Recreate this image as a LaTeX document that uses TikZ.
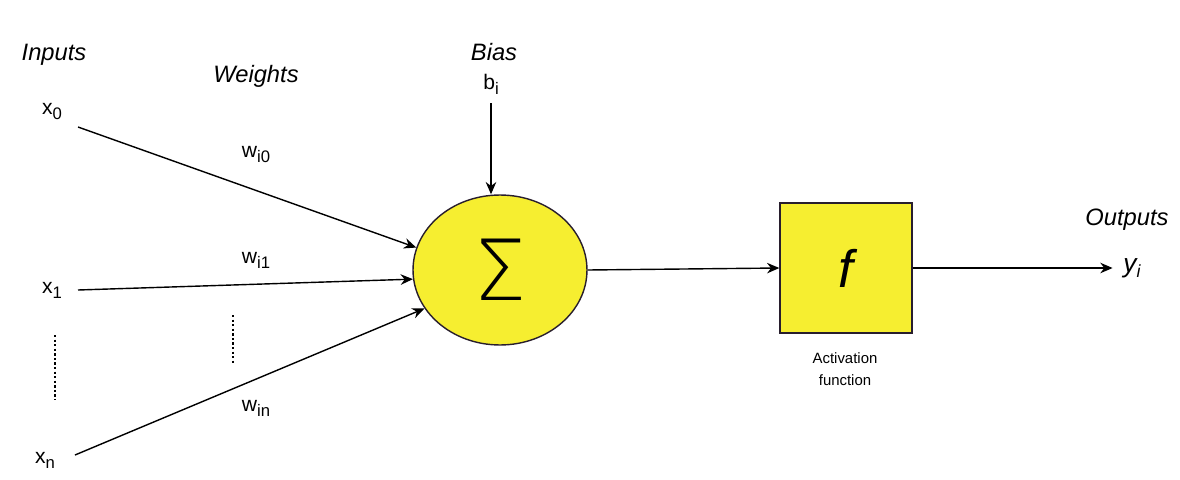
\documentclass[tikz,border=0pt]{standalone}
\usepackage{fontspec}
\setmainfont{Liberation Sans}
\newfontfamily\thinsig{DejaVu Sans ExtraLight}
\usetikzlibrary{shapes.geometric,arrows.meta}
\definecolor{yel}{RGB}{246,238,48}
\definecolor{edgecol}{RGB}{40,30,45}
\newcommand\mysub[1]{\raisebox{-0.45ex}{\fontsize{9.5}{10}\selectfont#1}}
\begin{document}
\begin{tikzpicture}[x=0.02cm,y=-0.02cm,
  font=\fontsize{12}{14}\selectfont,
  conn/.style={line width=0.8pt, -{Stealth[length=7pt,width=6pt]}},
  lbl/.style={inner sep=0pt},
  hdr/.style={inner sep=0pt, font=\fontsize{13.5}{15}\selectfont\itshape},
  dots/.style={line width=0.8pt, dash pattern=on 1.3pt off 1.3pt}]
\fill[white] (0,0) rectangle (1180,480);
\useasboundingbox (0,0) rectangle (1180,480);
% headers
\node[hdr] (inputs) at (54,55) {Inputs};
\node[hdr] (weights) at (256,76) {Weights};
\node[hdr] (bias) at (494,52) {Bias};
\node[hdr] (outputs) at (1127,220) {Outputs};
% inputs
\node[lbl] (x0) at (52,112) {x\mysub{0}};
\node[lbl] (x1) at (52,290) {x\mysub{1}};
\node[lbl] (xn) at (45,460) {x\mysub{n}};
% weights
\node[lbl] (w0) at (256,155) {w\mysub{i0}};
\node[lbl] (w1) at (256,260) {w\mysub{i1}};
\node[lbl] (wn) at (256,408) {w\mysub{in}};
% bias
\node[lbl] (bi) at (491,84) {b\mysub{i}};
% summation
\node[ellipse, draw=edgecol, line width=0.8pt, fill=yel, minimum width=3.48cm, minimum height=3.0cm, inner sep=0pt]
  (sum) at (500,270) {\thinsig\fontsize{48}{48}\selectfont Σ};
% activation
\node[rectangle, draw=edgecol, line width=0.8pt, fill=yel, minimum width=2.64cm, minimum height=2.6cm, inner sep=0pt]
  (f) at (846,268) {\fontsize{30}{30}\selectfont\itshape f};
\node[lbl, align=center, font=\fontsize{8.5}{12.5}\selectfont] (act) at (845,369) {Activation\\function};
% output
\node[lbl, font=\fontsize{15}{16}\selectfont\itshape] (yi) at (1132,268) {y\raisebox{-0.4ex}{\fontsize{10}{10}\selectfont i}};
% connectors
\coordinate (s0) at (78,127);
\coordinate (s1) at (78,290);
\coordinate (sn) at (75,455);
\draw[conn] (s0) -- (sum.165);
\draw[conn] (s1) -- (sum.186);
\draw[conn] (sn) -- (sum.207);
\draw[conn] ([yshift=-5pt]bi.south) -- (bi.south |- sum.north);
\draw[conn] (sum.east) -- (f.west);
\draw[conn, shorten >=6pt] (f.east) -- (yi.west);
% dotted
\coordinate (d1a) at (55,335);
\coordinate (d1b) at (55,400);
\coordinate (d2a) at (233,315);
\coordinate (d2b) at (233,365);
\draw[dots] (d1a) -- (d1b);
\draw[dots] (d2a) -- (d2b);
\end{tikzpicture}
\end{document}
